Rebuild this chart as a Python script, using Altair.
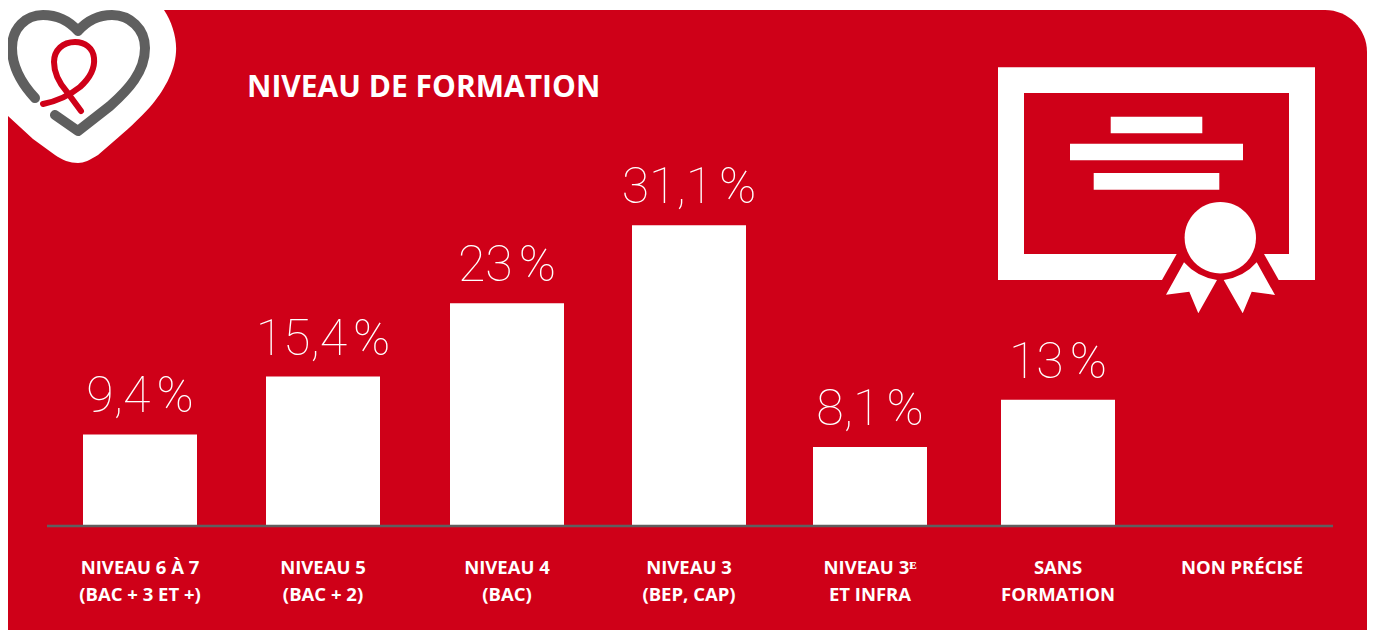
import altair as alt
import pandas as pd

categories = ["NIVEAU 6 À 7\n(BAC + 3 ET +)", "NIVEAU 5\n(BAC + 2)", "NIVEAU 4\n(BAC)", "NIVEAU 3\n(BEP, CAP)",
              "NIVEAU 3ᴱ\nET INFRA", "SANS\nFORMATION", "NON PRÉCISÉ"]
values = [9.4, 15.4, 23, 31.1, 8.1, 13, None]
value_labels = ["9,4\u202f%", "15,4\u202f%", "23\u202f%", "31,1\u202f%", "8,1\u202f%", "13\u202f%", ""]
title_text = "NIVEAU DE FORMATION"

RED = "#CF0018"
GREY = "#5F5F5F"
WHITE = "#FFFFFF"

df = pd.DataFrame({"rank": list(range(len(categories))), "category": categories,
                   "value": values, "label": value_labels})
one = pd.DataFrame({"a": [0]})

x_scale = alt.Scale(type="linear", domain=list(range(7)),
                    range=[132, 315, 499, 681, 862, 1050, 1234], zero=False, nice=False, padding=0)
y_scale = alt.Scale(domain=[0, 53.65], range=[517, 0], zero=True, nice=False, padding=0)
X = alt.X("rank:Q", scale=x_scale, axis=None)
Y = alt.Y("value:Q", scale=y_scale, axis=None)


def shape(path, fill=None, stroke=None, width=0):
    kw = dict(shape=path, size=4, opacity=1)
    if fill:
        kw.update(filled=True, fill=fill, strokeWidth=0)
    else:
        kw.update(filled=False, stroke=stroke, strokeWidth=width, strokeCap="round", strokeJoin="round")
    return alt.Chart(one).mark_point(**kw).encode(x=alt.value(-8), y=alt.value(-8))


def box(x0, y0, x1, y1):
    return f"M{x0},{y0}L{x1},{y0}L{x1},{y1}L{x0},{y1}Z"


panel = alt.Chart(one).mark_rect(fill=RED, cornerRadiusTopRight=42, opacity=1).encode(
    x=alt.value(0), x2=alt.value(1359), y=alt.value(2), y2=alt.value(622))

blob = shape("M0,0L164,0L164,10C172,22 177,38 176,52C175,72 163,92 150,107C140,118 125,132 113,142"
             "L98,155C90,160 84,163 78,163C70,163 62,160 55,155L33,139L8,116L0,116Z", fill=WHITE)
heart = shape("M35,98C22,84 12,68 12,48C12,28 26,15 43,15C58,15 70,22 78,31C86,22 98,15 112,15"
              "C130,15 145,29 145,48C145,72 128,90 110,106L78,131L55,115", stroke=GREY, width=10)
ribbon = shape("M43,104C58,101 70,95 80,87C90,78 95,68 94,58C93,48 85,42 75,42C63,42 54,50 54,62"
               "C54,74 60,84 67,92L81,111", stroke=RED, width=6)

cert = [
    shape(box(998, 67.3, 1315, 280), fill=WHITE),
    shape(box(1024, 93, 1289, 254), fill=RED),
    shape(box(1110.7, 116.7, 1202.3, 133.3), fill=WHITE),
    shape(box(1070, 143.7, 1243, 160.3), fill=WHITE),
    shape(box(1093.7, 173, 1219.3, 189.7), fill=WHITE),
    shape("M1176.7,254L1162,280L1278.7,280L1264,254Z", fill=RED),
    shape("M1184.6,237.7a35.7,35.7 0 1,0 71.4,0a35.7,35.7 0 1,0 -71.4,0Z", fill=WHITE),
    shape("M1184,262.3Q1197,277 1217,280L1198.3,313.3L1189.3,291.7L1166,294.7Z", fill=WHITE),
    shape("M1256.7,262.3Q1244,277 1223.7,280L1242.7,313.3L1251.7,291.7L1275,295Z", fill=WHITE),
]

baseline = alt.Chart(one).mark_rule(color=GREY, strokeWidth=2.4).encode(
    x=alt.value(39), x2=alt.value(1325), y=alt.value(518))

bars = alt.Chart(df).transform_filter("datum.value != null").mark_bar(
    width=114, fill=WHITE, orient="vertical", opacity=1).encode(x=X, y=Y)

val_text = alt.Chart(df).transform_filter("datum.value != null").mark_text(
    font="Roboto", fontWeight=100, fontSize=50, baseline="alphabetic", align="center",
    fill=WHITE, dy=-22).encode(x=X, y=Y, text="label:N")

cat_text = alt.Chart(df).mark_text(
    font="Open Sans", fontWeight="bold", fontSize=18.5, lineBreak="\n", lineHeight=27,
    baseline="alphabetic", align="center", fill=WHITE).encode(
    x=X, y=alt.value(566), text="category:N")

title = alt.Chart(one).mark_text(
    font="Open Sans", fontWeight="bold", fontSize=30, align="left", baseline="alphabetic", fill=WHITE).encode(
    x=alt.value(239), y=alt.value(89), text=alt.value(title_text))

chart = alt.layer(panel, blob, heart, ribbon, *cert, bars, baseline, val_text, cat_text, title).properties(
    width=1359, height=622, padding=0, background=WHITE,
    autosize=alt.AutoSizeParams(type="none"),
).configure_view(stroke=None)

chart.save("out.html", embed_options={"renderer": "svg", "actions": False})
